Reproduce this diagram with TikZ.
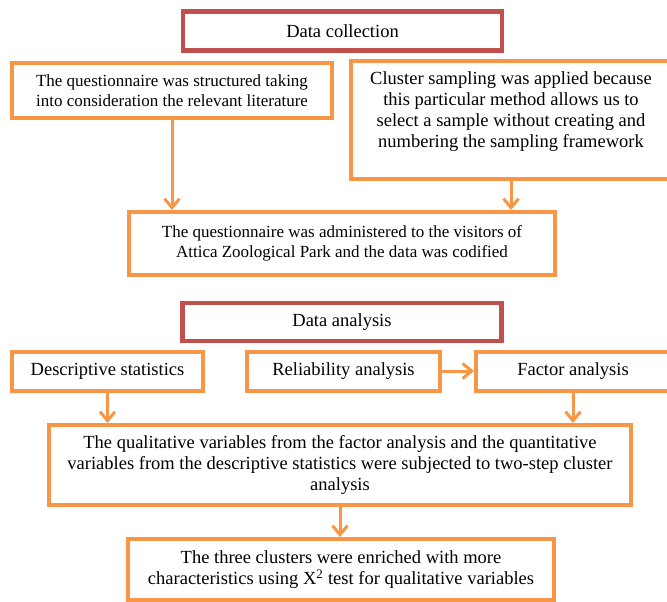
\documentclass[tikz,border=0pt]{standalone}
\usepackage{fontspec}
\setmainfont{Liberation Serif}
\usetikzlibrary{arrows.meta}
\definecolor{headred}{HTML}{C0504D}
\definecolor{stageorange}{HTML}{F79646}

\begin{document}
\begin{tikzpicture}
    [x=1pt, y=-1pt,
    head/.style={draw=headred, line width=4.5pt, minimum width=319pt, minimum height=39pt, inner sep=0pt,
		font=\fontsize{18.5}{21}\selectfont},
    stage/.style={draw=stageorange, line width=4pt, align=center, inner sep=0pt,
		font=\fontsize{18.5}{21}\selectfont},
    small/.style={font=\fontsize{17}{20}\selectfont},
    link/.style={draw=stageorange, line width=3pt, -{Straight Barb[length=9pt,width=15pt]}}]
		\useasboundingbox (0,0) rectangle (667,602);
		\clip (0,0) rectangle (667,602);

		% data collection
		\node [head] (collect) at (342.5,31) {Data collection};
		\node [stage,small,minimum width=320pt,minimum height=55pt] (literature) at (172,90.5)
			{The questionnaire was structured taking\\into consideration the relevant literature};
		\node [stage,minimum width=320pt,minimum height=118pt] (sampling) at (511,120)
			{Cluster sampling was applied because\\this particular method allows us to\\select a sample without creating and\\numbering the sampling framework\\~};
		\node [stage,small,minimum width=426pt,minimum height=63pt] (visitors) at (342,243.5)
			{The questionnaire was administered to the visitors of\\Attica Zoological Park and the data was codified};

		\draw[link] (literature) -- (literature |- visitors.north);
		\draw[link] (sampling) -- (sampling |- visitors.north);

		% data analysis
		\node [head,minimum height=38pt] (analysis) at (342,322) {Data analysis};
		\node [stage,minimum width=191pt,minimum height=39pt] (descriptive) at (107.5,371) {Descriptive statistics};
		\node [stage,minimum width=193pt,minimum height=39pt] (reliability) at (343.5,371) {Reliability analysis};
		\node [stage,minimum width=194pt,minimum height=39pt] (factor) at (573,371) {Factor analysis};
		\node [stage,minimum width=582pt,minimum height=80pt] (twostep) at (340,465)
			{The qualitative variables from the factor analysis and the quantitative\\variables from the descriptive statistics were subjected to two-step cluster\\analysis};
		\node [stage,minimum width=426pt,minimum height=61pt] (enriched) at (341,569.5)
			{The three clusters were enriched with more\\characteristics using X\textsuperscript{2} test for qualitative variables};

		\draw[link] (reliability) -- (reliability -| factor.west);
		\draw[link] (descriptive) -- (descriptive |- twostep.north);
		\draw[link] (factor) -- (factor |- twostep.north);
		\draw[link] (twostep) -- (twostep |- enriched.north);
    \end{tikzpicture}
\end{document}
